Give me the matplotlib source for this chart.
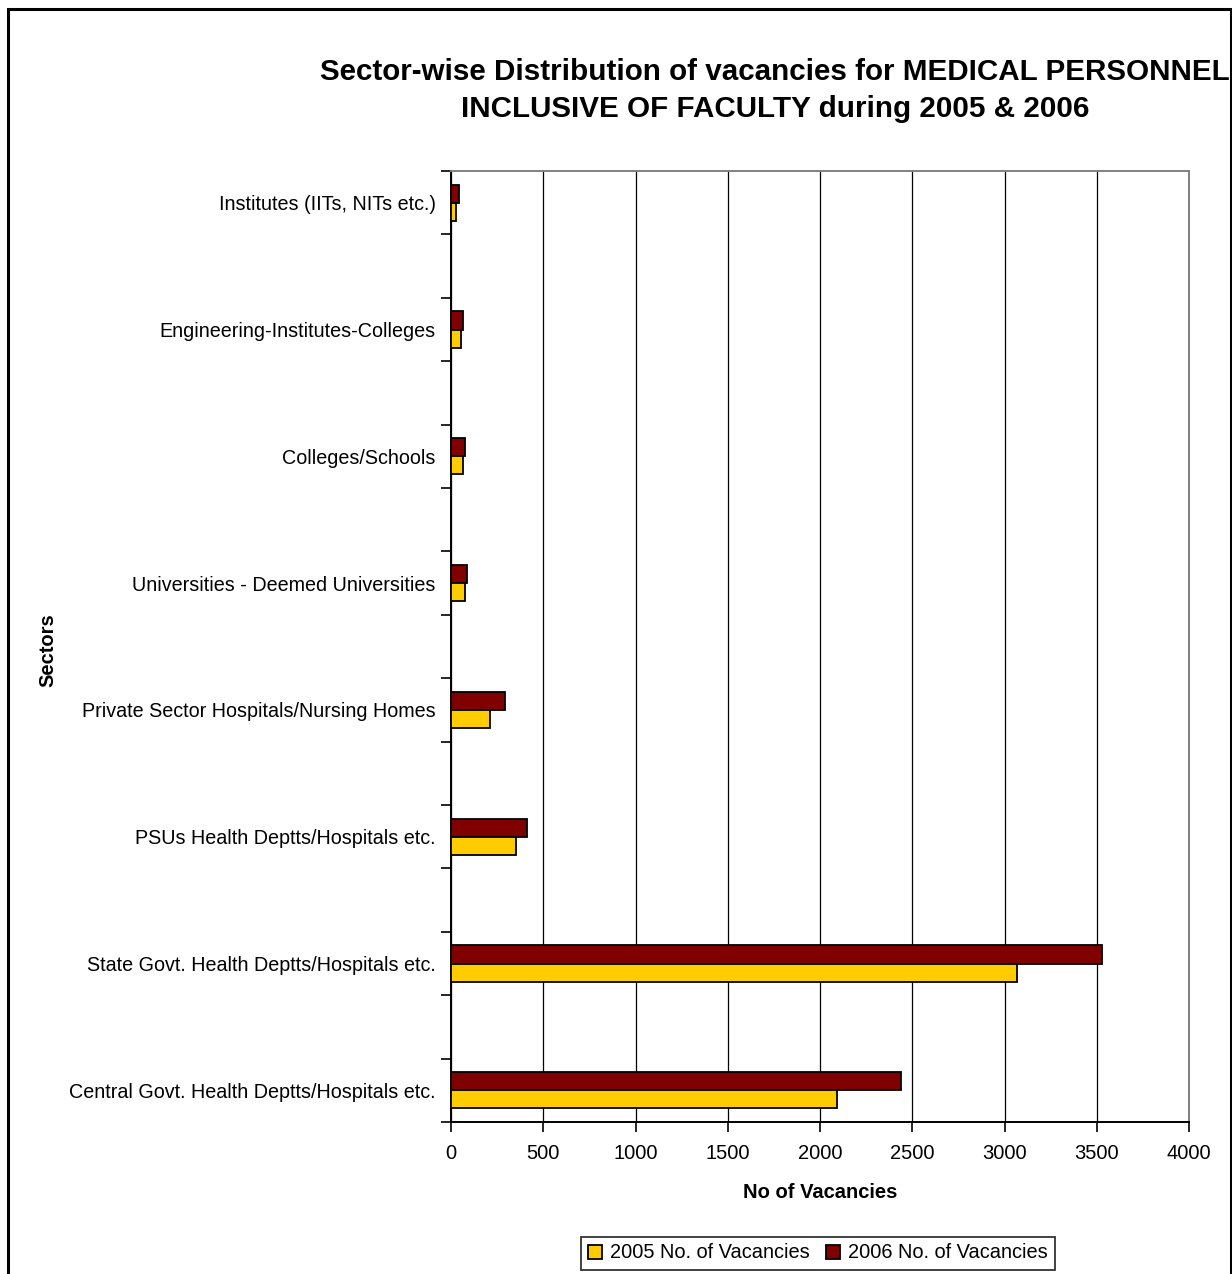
import numpy as np
import matplotlib.pyplot as plt
from matplotlib.patches import Rectangle

plt.rcParams['font.family'] = ['Liberation Sans', 'DejaVu Sans']

sectors = [
    "Institutes (IITs, NITs etc.)",
    "Engineering-Institutes-Colleges",
    "Colleges/Schools",
    "Universities - Deemed Universities",
    "Private Sector Hospitals/Nursing Homes",
    "PSUs Health Deptts/Hospitals etc.",
    "State Govt. Health Deptts/Hospitals etc.",
    "Central Govt. Health Deptts/Hospitals etc.",
]
vac_2005 = [29, 54, 65, 74, 213, 354, 3068, 2094]
vac_2006 = [42, 65, 76, 87, 291, 414, 3528, 2441]
x_ticks = [0, 500, 1000, 1500, 2000, 2500, 3000, 3500, 4000]

W, H = 1232, 1274
fig = plt.figure(figsize=(W / 100, H / 100), dpi=100)
ax = fig.add_axes([451 / W, 1 - 1122 / H, (1189 - 451) / W, (1122 - 171) / H])

# every sector sits on every other row, leaving a blank row between them
pos = np.arange(len(sectors)) * 2
bh = 0.285
ax.barh(pos - bh / 2, vac_2006, height=bh, color="#800000", edgecolor="black",
        linewidth=1.3, label="2006 No. of Vacancies", zorder=3)
ax.barh(pos + bh / 2, vac_2005, height=bh, color="#FFCC00", edgecolor="black",
        linewidth=1.3, label="2005 No. of Vacancies", zorder=3)

n_rows = pos[-1] + 1
ax.set_ylim(n_rows - 0.5, -0.5)
ax.set_xlim(0, 4000)

ax.set_yticks(pos)
ax.set_yticklabels(sectors, fontsize=14.2)
ax.set_yticks(np.arange(n_rows + 1) - 0.5, minor=True)
ax.tick_params(axis="y", which="major", length=0, pad=11)
ax.tick_params(axis="y", which="minor", length=7, width=1.2, direction="out")

ax.set_xticks(x_ticks)
ax.set_xticklabels([str(t) for t in x_ticks], fontsize=14.5)
ax.tick_params(axis="x", length=7, width=1.2, direction="out", pad=9)

ax.grid(axis="x", color="black", linewidth=0.9, zorder=0)
ax.spines["left"].set_linewidth(1.4)
ax.spines["bottom"].set_linewidth(1.4)
for s in ("top", "right"):
    ax.spines[s].set_color("#808080")
    ax.spines[s].set_linewidth(1.4)

ax.set_xlabel("No of Vacancies", fontsize=14.5, fontweight="bold", labelpad=14)
fig.text(48 / W, 1 - 650 / H, "Sectors", rotation=90, fontsize=14.5,
         fontweight="bold", ha="center", va="center")

fig.text(775 / W, 1 - 72 / H, "Sector-wise Distribution of vacancies for MEDICAL PERSONNEL",
         fontsize=21.3, fontweight="bold", ha="center", va="center")
fig.text(775 / W, 1 - 109 / H, "INCLUSIVE OF FACULTY during 2005 & 2006",
         fontsize=21.3, fontweight="bold", ha="center", va="center")

handles, labels = ax.get_legend_handles_labels()
leg = fig.legend(handles[::-1], labels[::-1], loc="center",
                 bbox_to_anchor=(818 / W, 1 - 1253 / H), ncol=2, fontsize=14.4,
                 frameon=True, fancybox=False, edgecolor="black",
                 handlelength=0.7, handleheight=0.7, handletextpad=0.4,
                 columnspacing=0.8, borderpad=0.35)
leg.get_frame().set_linewidth(1.3)

fig.patches.append(Rectangle((8 / W, -0.05), (1231 - 8) / W, 1.05 - 9 / H,
                             transform=fig.transFigure, fill=False,
                             edgecolor="black", linewidth=2.2))

fig.savefig("out.png", dpi=100)
